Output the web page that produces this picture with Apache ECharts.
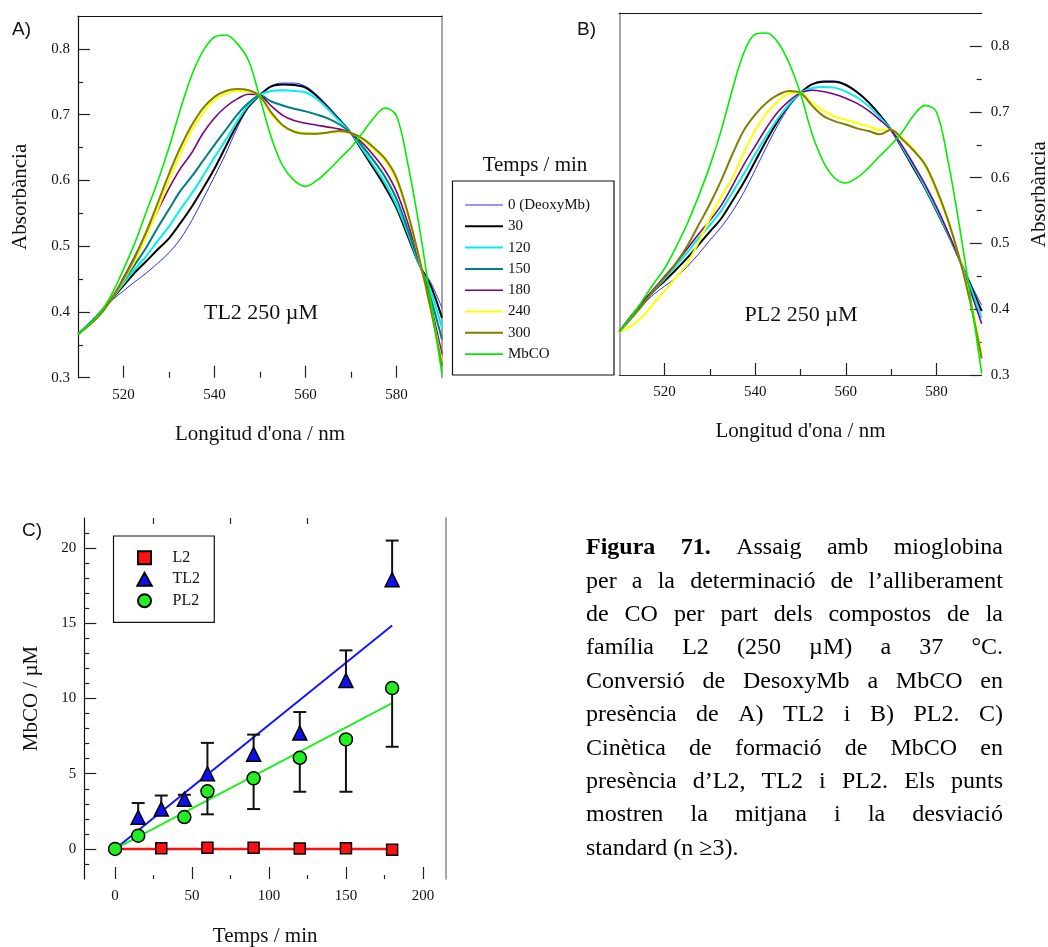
<!DOCTYPE html>
<html><head><meta charset="utf-8">
<script src="https://cdn.jsdelivr.net/npm/echarts@6/dist/echarts.min.js"></script>
<style>html,body{margin:0;padding:0;background:#fff}#c{width:1048px;height:947px}</style>
</head><body><div id="c"></div>
<script>
// ---------- DATA ----------
const wavelengths = [510,512.5,515,517.5,520,522.5,525,527.5,530,532.5,535,537.5,540,542.5,545,547.5,550,552.5,555,557.5,560,562.5,565,567.5,570,572.5,575,577.5,580,582.5,585,587.5,590];
const timeLabels = ['0 (DeoxyMb)','30','120','150','180','240','300','MbCO'];

// Panel A: TL2 250 uM
const aT0   = [0.366,0.382,0.400,0.418,0.432,0.446,0.459,0.474,0.490,0.511,0.539,0.572,0.606,0.641,0.680,0.712,0.730,0.744,0.748,0.748,0.743,0.730,0.713,0.693,0.672,0.648,0.620,0.595,0.563,0.520,0.472,0.445,0.406];
const aT30  = [0.366,0.382,0.400,0.420,0.440,0.460,0.477,0.495,0.512,0.535,0.560,0.588,0.618,0.652,0.685,0.712,0.730,0.743,0.746,0.745,0.741,0.728,0.710,0.692,0.672,0.645,0.618,0.590,0.558,0.515,0.472,0.440,0.391];
const aT120 = [0.366,0.382,0.400,0.421,0.443,0.465,0.485,0.508,0.530,0.556,0.580,0.607,0.635,0.662,0.690,0.715,0.730,0.736,0.737,0.736,0.734,0.724,0.708,0.690,0.672,0.648,0.622,0.596,0.562,0.520,0.472,0.432,0.376];
const aT150 = [0.366,0.382,0.400,0.422,0.447,0.472,0.498,0.528,0.556,0.584,0.606,0.630,0.654,0.677,0.700,0.718,0.729,0.720,0.714,0.709,0.705,0.700,0.694,0.685,0.672,0.652,0.630,0.605,0.572,0.525,0.474,0.422,0.358];
const aT180 = [0.366,0.381,0.399,0.422,0.452,0.485,0.520,0.554,0.588,0.618,0.642,0.672,0.695,0.712,0.724,0.731,0.729,0.713,0.699,0.691,0.687,0.684,0.681,0.678,0.672,0.657,0.638,0.615,0.583,0.535,0.478,0.412,0.335];
const aT240 = [0.366,0.380,0.397,0.421,0.448,0.478,0.515,0.556,0.600,0.640,0.676,0.703,0.722,0.732,0.736,0.735,0.728,0.700,0.683,0.675,0.672,0.671,0.673,0.674,0.672,0.662,0.647,0.630,0.600,0.548,0.480,0.405,0.325];
const aT300 = [0.366,0.380,0.397,0.421,0.450,0.483,0.522,0.565,0.610,0.650,0.684,0.710,0.727,0.736,0.739,0.737,0.728,0.703,0.684,0.674,0.671,0.671,0.673,0.675,0.672,0.664,0.650,0.633,0.604,0.550,0.482,0.405,0.318];
const aMbCO = [0.366,0.381,0.400,0.428,0.465,0.505,0.552,0.598,0.650,0.708,0.760,0.797,0.818,0.821,0.808,0.782,0.725,0.665,0.622,0.600,0.591,0.600,0.615,0.633,0.650,0.672,0.695,0.710,0.698,0.625,0.530,0.418,0.305];

// Panel B: PL2 250 uM (no 150 min curve)
const bT0   = [0.366,0.385,0.405,0.422,0.435,0.448,0.465,0.484,0.505,0.525,0.549,0.578,0.612,0.647,0.680,0.708,0.728,0.742,0.747,0.747,0.742,0.731,0.716,0.697,0.673,0.645,0.616,0.586,0.552,0.517,0.478,0.440,0.406];
const bT30  = [0.366,0.387,0.408,0.427,0.443,0.460,0.478,0.498,0.518,0.538,0.565,0.593,0.625,0.657,0.686,0.711,0.729,0.742,0.746,0.746,0.741,0.730,0.715,0.695,0.673,0.644,0.614,0.584,0.550,0.515,0.477,0.437,0.397];
const bT120 = [0.366,0.388,0.409,0.428,0.446,0.466,0.486,0.508,0.528,0.550,0.578,0.606,0.636,0.664,0.690,0.712,0.729,0.736,0.738,0.737,0.731,0.722,0.709,0.692,0.673,0.646,0.617,0.586,0.552,0.516,0.477,0.434,0.387];
const bT180 = [0.366,0.389,0.410,0.430,0.450,0.470,0.492,0.514,0.535,0.558,0.588,0.620,0.648,0.676,0.700,0.717,0.729,0.733,0.731,0.727,0.721,0.713,0.702,0.688,0.672,0.648,0.620,0.590,0.556,0.518,0.477,0.428,0.378];
const bT240 = [0.366,0.374,0.388,0.408,0.428,0.448,0.470,0.502,0.538,0.571,0.600,0.638,0.672,0.698,0.716,0.728,0.729,0.714,0.702,0.693,0.688,0.683,0.678,0.673,0.673,0.660,0.643,0.618,0.580,0.535,0.480,0.415,0.330];
const bT300 = [0.366,0.385,0.405,0.428,0.448,0.470,0.496,0.528,0.560,0.596,0.636,0.672,0.696,0.714,0.726,0.732,0.729,0.710,0.694,0.686,0.681,0.675,0.671,0.666,0.673,0.658,0.641,0.620,0.583,0.537,0.480,0.410,0.325];
const bMbCO = [0.366,0.388,0.412,0.438,0.462,0.494,0.530,0.572,0.618,0.672,0.735,0.790,0.818,0.820,0.806,0.774,0.728,0.668,0.625,0.600,0.592,0.600,0.615,0.633,0.650,0.670,0.695,0.710,0.700,0.628,0.530,0.420,0.302];

// Panel C: kinetics
const l2Time  = [30,60,90,120,150,180];
const l2Val   = [0.05,0.08,0.07,0.03,0.05,-0.05];
const tl2Time = [15,30,45,60,90,120,150,180];
const tl2Val  = [2.1,2.65,3.3,5.0,6.3,7.7,11.2,17.9];
const tl2Sd   = [0.95,0.9,0.3,2.05,1.3,1.4,2.0,2.6];
const pl2Time = [0,15,45,60,90,120,150,180];
const pl2Val  = [0,0.88,2.12,3.83,4.69,6.06,7.28,10.69];
const pl2Sd   = [0,0,0,1.53,2.04,2.26,3.48,3.9];
const l2Fit   = [[0,0],[180,0]];
const tl2Fit  = [[0,0],[180,14.85]];
const pl2Fit  = [[0,0],[180,9.7]];

// Tick values
const specMajorX = [520,540,560,580];
const specMinorX = [530,550,570];
const specMajorY = [0.3,0.4,0.5,0.6,0.7,0.8];
const specMinorY = [0.35,0.45,0.55,0.65,0.75];
const kinMajorX = [0,50,100,150,200];
const kinMinorX = [25,75,125,175];
const kinTopX = [25,75,125];
const kinMajorY = [0,5,10,15,20];
const kinMinorY = [-1,1,2,3,4,6,7,8,9,11,12,13,14,16,17,18,19,21];

const captionLines = [
  'Figura 71. Assaig amb mioglobina',
  'per a la determinació de l\u2019alliberament',
  'de CO per part dels compostos de la',
  'família L2 (250 µM) a 37 °C.',
  'Conversió de DesoxyMb a MbCO en',
  'presència de A) TL2 i B) PL2. C)',
  'Cinètica de formació de MbCO en',
  'presència d\u2019L2, TL2 i PL2. Els punts',
  'mostren la mitjana i la desviació',
  'standard (n \u22653).'
];

// ---------- STYLE ----------
const serif = '"Liberation Serif","Times New Roman",serif';
const sans = '"Liberation Sans",Arial,sans-serif';
const ink = '#111';
const curveColors = ['#2a2aff','#000000','#00f0f0','#008080','#800080','#ffff00','#808000','#00ee00'];
const curveWidths = [1,2,2,2,1.6,2,2,1.6];

const xAxis = [], yAxis = [], series = [], graphic = [];
function addX(o){ xAxis.push(Object.assign({type:'value', splitLine:{show:false}}, o)); return xAxis.length-1; }
function addY(o){ yAxis.push(Object.assign({type:'value', splitLine:{show:false}}, o)); return yAxis.length-1; }
const noLine = {show:false, onZero:false};
const noTick = {show:false};
const noLabel = {show:false};
function tick(vals, len, color){ return {show:true, inside:true, length:len, customValues:vals, lineStyle:{color:color||'#222', width:1.2}}; }
function lbl(vals, fmt, margin){ return {show:true, customValues:vals, formatter:fmt, margin:margin, fontSize:15, fontFamily:serif, color:ink}; }
const nameStyle = {fontSize:21, fontFamily:serif, color:ink};

// Spectral panels
function spectralPanel(g, side){
  const isA = side === 'A';
  const xm = addX({gridIndex:g, min:510, max:590, position:'bottom',
    axisLine: isA ? noLine : {show:true, onZero:false, lineStyle:{color:'#333', width:1}},
    axisTick: tick(specMajorX,12), axisLabel: lbl(specMajorX, v=>String(v), 10),
    name:'Longitud d\'ona / nm', nameLocation:'middle', nameGap:46, nameTextStyle:nameStyle});
  addX({gridIndex:g, min:510, max:590, position:'bottom', axisLine:noLine, axisTick:tick(specMinorX,6), axisLabel:noLabel});
  addX({gridIndex:g, min:510, max:590, position:'top', axisLine:{show:true, onZero:false, lineStyle:{color:'#111', width:1.2}}, axisTick:noTick, axisLabel:noLabel});
  const main = isA ? 'left' : 'right';
  const other = isA ? 'right' : 'left';
  const ym = addY({gridIndex:g, min:0.3, max:0.85, position:main,
    axisLine: isA ? {show:true, onZero:false, lineStyle:{color:'#111', width:1.2}} : noLine,
    axisTick: tick(specMajorY,12), axisLabel: lbl(specMajorY, v=>v.toFixed(1), isA ? 8 : 9),
    name:'Absorbància', nameLocation:'middle', nameGap: 47, nameRotate:90, nameTextStyle:nameStyle});
  addY({gridIndex:g, min:0.3, max:0.85, position:main, axisLine:noLine, axisTick:tick(specMinorY,5), axisLabel:noLabel});
  addY({gridIndex:g, min:0.3, max:0.85, position:other, axisLine:{show:true, onZero:false, lineStyle:{color:'#8a8a8a', width:1.5}}, axisTick:noTick, axisLabel:noLabel});
  return [xm, ym];
}
const [axA, ayA] = spectralPanel(0, 'A');
const [axB, ayB] = spectralPanel(1, 'B');

function pairs(ys){ return wavelengths.map((w,i)=>[w, ys[i]]); }
const aCurves = [aT0,aT30,aT120,aT150,aT180,aT240,aT300,aMbCO];
const bCurves = [bT0,bT30,bT120,null,bT180,bT240,bT300,bMbCO];
function addCurves(curves, xi, yi){
  curves.forEach((c,i)=>{
    if(!c) return;
    series.push({type:'line', name:timeLabels[i], xAxisIndex:xi, yAxisIndex:yi, data:pairs(c),
      symbol:'none', showSymbol:false, smooth:0.35, silent:true,
      lineStyle:{color:curveColors[i], width:curveWidths[i]}, itemStyle:{color:curveColors[i]}, z:2+i*0.01});
  });
}
addCurves(aCurves, axA, ayA);
addCurves(bCurves, axB, ayB);

// Kinetics panel
const axC = addX({gridIndex:2, min:-20, max:215, position:'bottom', axisLine:noLine,
  axisTick:tick(kinMajorX,12), axisLabel:lbl(kinMajorX, v=>String(v), 10),
  name:'Temps / min', nameLocation:'middle', nameGap:47, nameTextStyle:nameStyle});
addX({gridIndex:2, min:-20, max:215, position:'bottom', axisLine:noLine, axisTick:tick(kinMinorX,4), axisLabel:noLabel});
addX({gridIndex:2, min:-20, max:215, position:'top', axisLine:noLine, axisTick:tick(kinTopX,6), axisLabel:noLabel});
const ayC = addY({gridIndex:2, min:-2, max:22, position:'left',
  axisLine:{show:true, onZero:false, lineStyle:{color:'#111', width:1.2}},
  axisTick:tick(kinMajorY,12), axisLabel:lbl(kinMajorY, v=>String(v), 8),
  name:'MbCO / µM', nameLocation:'middle', nameGap:42, nameRotate:90, nameTextStyle:nameStyle});
addY({gridIndex:2, min:-2, max:22, position:'left', axisLine:noLine, axisTick:tick(kinMinorY,5), axisLabel:noLabel});
addY({gridIndex:2, min:-2, max:22, position:'right', axisLine:{show:true, onZero:false, lineStyle:{color:'#8a8a8a', width:1.5}}, axisTick:noTick, axisLabel:noLabel});

function fitLine(name, data, color, w){
  series.push({type:'line', name:name, xAxisIndex:axC, yAxisIndex:ayC, data:data, symbol:'none', showSymbol:false,
    silent:true, lineStyle:{color:color, width:w}, z:2});
}
fitLine('L2 fit', l2Fit, '#ff1010', 2.5);
fitLine('TL2 fit', tl2Fit, '#1414ff', 2);
fitLine('PL2 fit', pl2Fit, '#22ee22', 2);

function errBars(name, times, vals, sds, dir){
  series.push({type:'custom', name:name, xAxisIndex:axC, yAxisIndex:ayC, silent:true, z:3,
    data: times.map((t,i)=>[t, vals[i], vals[i] + dir*sds[i]]).filter(d=>d[1]!==d[2]),
    renderItem:(params, api)=>{
      const p0 = api.coord([api.value(0), api.value(1)]);
      const p1 = api.coord([api.value(0), api.value(2)]);
      const st = {stroke:'#111', lineWidth:2, fill:null};
      return {type:'group', children:[
        {type:'line', shape:{x1:p0[0], y1:p0[1], x2:p1[0], y2:p1[1]}, style:st},
        {type:'line', shape:{x1:p1[0]-6.5, y1:p1[1], x2:p1[0]+6.5, y2:p1[1]}, style:st}
      ]};
    }});
}
errBars('TL2 sd', tl2Time, tl2Val, tl2Sd, 1);
errBars('PL2 sd', pl2Time, pl2Val, pl2Sd, -1);

function scatter(name, times, vals, symbol, size, color){
  series.push({type:'scatter', name:name, xAxisIndex:axC, yAxisIndex:ayC, data:times.map((t,i)=>[t, vals[i]]),
    symbol:symbol, symbolSize:size, silent:true, z:4,
    itemStyle:{color:color, borderColor:'#000', borderWidth:1.5, opacity:1}});
}
const squarePath = 'path://M0,0H10V10H0Z';
const trianglePath = 'path://M5,0L10,9H0Z';
scatter('L2', l2Time, l2Val, 'rect', 11, '#ff1010');
scatter('TL2', tl2Time, tl2Val, 'triangle', 14, '#1010ee');
scatter('PL2', pl2Time, pl2Val, 'circle', 13, '#22ee22');

// ---------- GRAPHIC TEXT ----------
function txt(x, y, text, size, family, opts){
  graphic.push(Object.assign({type:'text', x:x, y:y, silent:true, z:10, style:Object.assign({text:text, fontSize:size, fontFamily:family,
    fill:ink, align:'left', verticalAlign:'middle', textAlign:'left', textVerticalAlign:'middle'}, opts||{})}));
}
txt(12, 30, 'A)', 19, sans);
txt(577, 30, 'B)', 19, sans);
txt(22, 531, 'C)', 19, sans);
txt(261, 313, 'TL2 250 µM', 22, serif, {align:'center', textAlign:'center'});
txt(801, 315, 'PL2 250 µM', 22, serif, {align:'center', textAlign:'center'});
txt(535, 165, 'Temps / min', 21, serif, {align:'center', textAlign:'center'});
graphic.push({type:'rect', silent:true, z:1, shape:{x:452.5, y:181, width:161.5, height:194}, style:{fill:'#fff', stroke:'#111', lineWidth:1.2}});
graphic.push({type:'rect', silent:true, z:1, shape:{x:113.5, y:536, width:100.8, height:86.3}, style:{fill:'#fff', stroke:'#111', lineWidth:1.2}});

// Caption (justified)
const capX = 586, capRight = 1003, capTop = 548, capStep = 33.4, capSize = 24;
const mctx = document.createElement('canvas').getContext('2d');
function measure(t, bold){ mctx.font = (bold ? 'bold ' : '') + capSize + 'px "Liberation Serif"'; return mctx.measureText(t).width; }
captionLines.forEach((line, li)=>{
  const words = line.split(' ');
  const bold = words.map((w,i)=> li===0 && i<2);
  const widths = words.map((w,i)=>measure(w, bold[i]));
  const total = widths.reduce((a,b)=>a+b, 0);
  const last = li === captionLines.length-1;
  const gap = last ? measure(' ', false) : (capRight - capX - total)/(words.length-1);
  let x = capX;
  words.forEach((w,i)=>{
    txt(x, capTop + li*capStep, w, capSize, serif, {fontWeight: bold[i] ? 'bold' : 'normal', fill:'#000'});
    x += widths[i] + gap;
  });
});

// ---------- OPTION ----------
const lineIcon = w => 'path://M0,0H38V' + w + 'H0Z';
const option = {
  animation:false,
  backgroundColor:'#fff',
  grid:[
    {left:78, top:16, width:364, height:361.7, outerBoundsMode:'none', containLabel:false},
    {left:619.3, top:13.3, width:362.4, height:361.7, outerBoundsMode:'none', containLabel:false},
    {left:84.3, top:518, width:361.7, height:361, outerBoundsMode:'none', containLabel:false}
  ],
  xAxis:xAxis, yAxis:yAxis, series:series, graphic:graphic,
  legend:[
    {data:timeLabels.map((n,i)=>({name:n, icon:lineIcon(curveWidths[i])})),
     orient:'vertical', left:465, top:197.5, padding:0, itemWidth:38, itemHeight:14, itemGap:6.3,
     selectedMode:false, textStyle:{fontSize:15, fontFamily:serif, color:ink}, z:5},
    {data:[{name:'L2', icon:squarePath}, {name:'TL2', icon:trianglePath}, {name:'PL2', icon:'circle'}],
     orient:'vertical', left:136.3, top:549.7, padding:0, itemWidth:46, itemHeight:13, itemGap:5.5,
     selectedMode:false, textStyle:{fontSize:16, fontFamily:serif, color:ink}, z:5}
  ]
};
const chart = echarts.init(document.getElementById('c'), null, {renderer:'canvas'});
chart.setOption(option);
</script></body></html>
